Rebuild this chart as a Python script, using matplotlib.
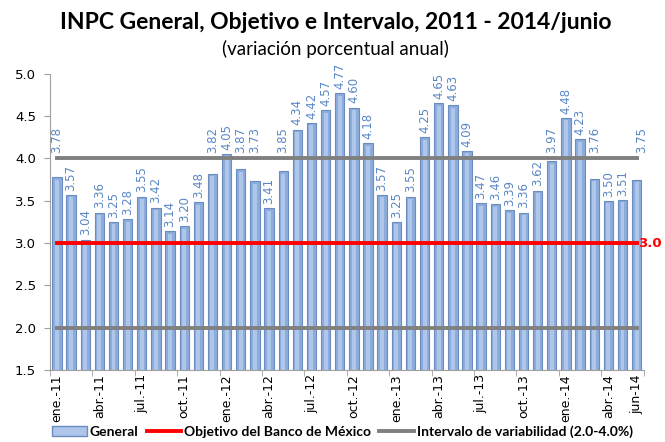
import numpy as np
import matplotlib
matplotlib.use('Agg')
import matplotlib.pyplot as plt
from matplotlib.patches import Patch
from matplotlib.lines import Line2D

# Data: INPC monthly annual variation, ene-2011 .. jun-2014
meses = ['ene.', 'feb.', 'mar.', 'abr.', 'may.', 'jun.',
         'jul.', 'ago.', 'sep.', 'oct.', 'nov.', 'dic.']
anios = ['11', '12', '13', '14']
general = [3.78, 3.57, 3.04, 3.36, 3.25, 3.28, 3.55, 3.42, 3.14, 3.20, 3.48, 3.82,
           4.05, 3.87, 3.73, 3.41, 3.85, 4.34, 4.42, 4.57, 4.77, 4.60, 4.18, 3.57,
           3.25, 3.55, 4.25, 4.65, 4.63, 4.09, 3.47, 3.46, 3.39, 3.36, 3.62, 3.97,
           4.48, 4.23, 3.76, 3.50, 3.51, 3.75]
objetivo = 3.0
intervalo = (2.0, 4.0)

# Category labels
etiquetas = []
for a in anios:
  for m in meses:
    etiquetas.append(m + '-' + a)
etiquetas = etiquetas[:len(general)]
etiquetas[-1] = 'jun-14'

fig = plt.figure(figsize=(6.65, 4.42), dpi=100)
ax = fig.add_axes([0.075, 0.163, 0.893, 0.67])

x = np.arange(len(general))
ax.bar(x, general, width=0.66, color='#8CADDB', edgecolor='#6A8CC0',
       linewidth=0.8, zorder=2)
# Lighter centre strip, fakes Excel's gradient fill.
ax.bar(x, np.array(general) - 1.5 - 0.03, bottom=1.5, width=0.28,
       color='#ADC6E9', linewidth=0, zorder=2)

# Data labels, those hitting the 4.0 line are pushed above it (as in Excel).
for xi, v in zip(x, general):
  ly = v + 0.05
  if 3.65 < v < intervalo[1]:
    ly = intervalo[1] + 0.06
  dx = 0.35 if xi == x[-1] else 0
  ax.text(xi + dx, ly, '{:.2f}'.format(v), rotation=90, ha='center',
          va='bottom', fontsize=8.5, color='#5A87C5', zorder=4)

# Target and interval lines
ax.plot([x[0], x[-1]], [intervalo[1], intervalo[1]], color='#808080', lw=2.8, zorder=3)
ax.plot([x[0], x[-1]], [intervalo[0], intervalo[0]], color='#808080', lw=2.8, zorder=3)
ax.plot([x[0], x[-1]], [objetivo, objetivo], color='#FF0000', lw=2.8, zorder=3)
ax.text(x[-1] + 0.1, objetivo, '{:.1f}'.format(objetivo), color='#FF0000',
        fontsize=9.5, fontweight='bold', ha='left', va='center', zorder=5)

# Axes setup
ax.set_xlim(-0.5, len(general) - 0.5)
ax.set_ylim(1.5, 5.0)
yt = np.arange(1.5, 5.01, 0.5)
ax.set_yticks(yt)
ax.set_yticklabels(['{:.1f}'.format(t) for t in yt], fontsize=9.5)
lab_idx = list(range(0, len(general), 3)) + [len(general) - 1]
ax.set_xticks(lab_idx)
ax.set_xticklabels([etiquetas[i] for i in lab_idx], rotation=90, fontsize=9)
ax.tick_params(axis='x', length=0, pad=3)
ax.tick_params(axis='y', length=4, color='#A0A0A0', pad=6)
# Excel-like tick marks between categories
ax.set_xticks([i - 0.5 for i in lab_idx[:-1]] + [len(general) - 0.5], minor=True)
ax.tick_params(axis='x', which='minor', length=4, color='#A0A0A0')
for s in ['top', 'right']:
  ax.spines[s].set_visible(False)
ax.spines['left'].set_color('#A0A0A0')
ax.spines['bottom'].set_color('#A0A0A0')

# Titles
fig.text(0.505, 0.95, 'INPC General, Objetivo e Intervalo, 2011 - 2014/junio',
         ha='center', va='center', fontsize=16.5, fontweight='bold', family='Lato')
fig.text(0.505, 0.889, '(variación porcentual anual)', ha='center', va='center',
         fontsize=13.5, family='Lato')

# Legend
handles = [Patch(facecolor='#ADC6E9', edgecolor='#6A8CC0'),
           Line2D([], [], color='#FF0000', lw=2.8),
           Line2D([], [], color='#808080', lw=2.8)]
labels = ['General', 'Objetivo del Banco de México',
          'Intervalo de variabilidad (2.0-4.0%)']
fig.legend(handles, labels, loc='lower center', bbox_to_anchor=(0.515, -0.02),
           ncol=3, frameon=False, prop={'weight': 'bold', 'size': 10, 'family': 'Lato'},
           handlelength=2.5, handletextpad=0.2, columnspacing=0.6)

fig.savefig('out.png', dpi=100)
